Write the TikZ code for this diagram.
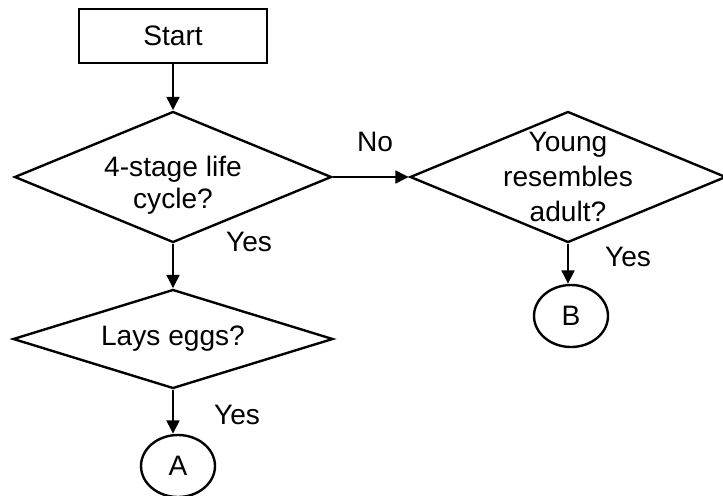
\documentclass[tikz,border=0pt]{standalone}
\usepackage{fontspec}
\setmainfont{Liberation Sans}
\usepackage{tikz}
\usetikzlibrary{arrows.meta}
\usetikzlibrary{shapes.geometric}
\colorlet{chartline}{black}

\begin{document}
\begin{tikzpicture}[
    line width=1.7pt,
    font=\fontsize{20}{23}\selectfont,
    question/.style={draw=chartline, diamond, aspect=2.4, inner sep=-10pt, align=center},
    startbox/.style={draw=chartline, rectangle, minimum width=4.7cm, minimum height=1.35cm},
    endcircle/.style={draw=chartline, ellipse, minimum width=1.85cm, minimum height=1.55cm},
    flow/.style={draw=chartline, -{Triangle[length=9.5pt,width=9pt]}}
  ]

  \useasboundingbox (0, 0) rectangle (18.075, 12.375);

  % ---------- Left column ----------

  % Shapes
  \node[startbox] at (4.325, 11.475) (start) {Start};
  \node[question, minimum width=7.925cm, minimum height=3.275cm,
        font=\fontsize{20}{22.7}\selectfont] at (4.325, 7.95) (stages)
        {\rule{0pt}{0.94cm}4-stage life\\cycle?};
  \node[question, minimum width=8cm, minimum height=2.475cm] at (4.325, 3.9) (eggs) {Lays eggs?};
  \node[endcircle] at (4.45, 0.725) (A) {A};

  % Labels
  \node at (6.225, 6.325) (yesstages) {Yes};
  \node at (5.925, 2.0) (yeseggs) {Yes};


  % ---------- Right column ----------

  % Shapes
  \node[question, minimum width=7.9cm, minimum height=3.275cm,
        font=\fontsize{20}{24.8}\selectfont] at (14.2, 7.95) (young)
        {Young\\resembles\\adult?};
  \node[endcircle] at (14.275, 4.475) (B) {B};

  % Labels
  \node at (9.375, 8.825) (no) {No};
  \node at (15.7, 5.95) (yesyoung) {Yes};


  % ---------- Arrows ----------
  \draw[flow] (start) -- (stages);
  \draw[flow] (stages) -- (eggs);
  \draw[flow] (eggs.south) -- (eggs.south |- A.north);
  \draw[flow] (stages) -- (young);
  \draw[flow] (young.south) -- (young.south |- B.north);
\end{tikzpicture}
\end{document}
